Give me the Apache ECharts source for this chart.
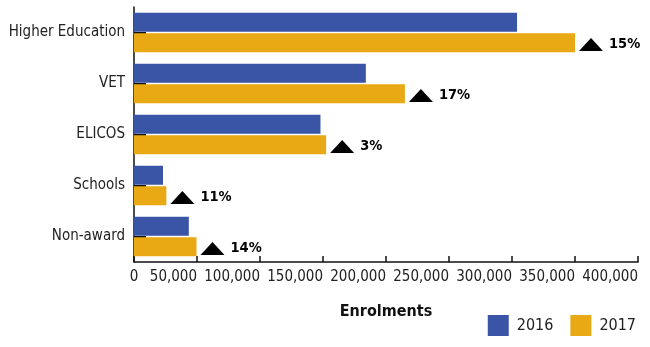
<!DOCTYPE html>
<html>
<head>
<meta charset="utf-8">
<script src="https://cdn.jsdelivr.net/npm/echarts@6/dist/echarts.min.js"></script>
<style>
  html, body { margin: 0; padding: 0; background: #fff; }
  #chart { width: 650px; height: 347px; }
</style>
</head>
<body>
<div id="chart"></div>
<script>
// Sector enrolments, 2016 vs 2017
const sectors = ['Higher Education', 'VET', 'ELICOS', 'Schools', 'Non-award'];
const enrol2016 = [304000, 184000, 148000, 23000, 43500];
const enrol2017 = [350000, 215000, 152500, 25700, 49600];
const growthLabels = ['15%', '17%', '3%', '11%', '14%'];
const xTicks = [0, 50000, 100000, 150000, 200000, 250000, 300000, 350000, 400000];

const FONT = '"DejaVu Sans Condensed", "Liberation Sans Narrow", "Liberation Sans", sans-serif';
const BLUE = '#3B55A6';
const GOLD = '#E9A915';

const chart = echarts.init(document.getElementById('chart'), null, { renderer: 'canvas' });

chart.setOption({
  animation: false,
  textStyle: { fontFamily: FONT },
  grid: { left: 134, right: 12, top: 7, bottom: 85, containLabel: false, outerBoundsMode: 'none' },
  legend: {
    data: ['2016', '2017'],
    right: 9,
    bottom: 6,
    itemWidth: 21,
    itemHeight: 21,
    itemGap: 17,
    icon: 'rect',
    textStyle: { fontFamily: FONT, fontSize: 16, color: '#222', padding: [0, 0, 0, 3] }
  },
  xAxis: {
    type: 'value',
    min: xTicks[0],
    max: xTicks[xTicks.length - 1],
    interval: xTicks[1] - xTicks[0],
    name: 'Enrolments',
    nameLocation: 'middle',
    nameGap: 42,
    nameTextStyle: { fontFamily: FONT, fontSize: 16, fontWeight: 'bold', color: '#111' },
    axisLine: { show: true, lineStyle: { color: '#111', width: 1.5 } },
    axisTick: { show: true, inside: true, length: 6, lineStyle: { color: '#111', width: 1.5 } },
    splitLine: { show: false },
    axisLabel: {
      fontFamily: FONT, fontSize: 15, color: '#222', margin: 8,
      align: 'right',
      alignMinLabel: 'center',
      hideOverlap: false,
      formatter: v => v.toLocaleString('en-US')
    }
  },
  yAxis: {
    type: 'category',
    data: sectors,
    inverse: true,
    axisLine: { show: true, lineStyle: { color: '#111', width: 1.5 } },
    axisTick: { show: true, inside: true, length: 12, alignWithLabel: true, lineStyle: { color: '#111', width: 2 } },
    axisLabel: { fontFamily: FONT, fontSize: 15, color: '#222', margin: 9 }
  },
  series: [
    {
      name: '2016',
      type: 'bar',
      data: enrol2016,
      itemStyle: { color: BLUE },
      barWidth: 19,
      barGap: '8%',
      z: 1
    },
    {
      name: '2017',
      type: 'bar',
      data: enrol2017,
      itemStyle: { color: GOLD },
      barWidth: 19,
      z: 1
    },
    {
      // growth markers beside each 2017 bar
      name: 'growth',
      type: 'scatter',
      data: enrol2017.map((v, i) => [v, sectors[i]]),
      symbol: 'triangle',
      symbolSize: [24, 13],
      symbolOffset: [16, 12],
      itemStyle: { color: '#000', opacity: 1 },
      label: {
        show: true,
        position: 'right',
        distance: 6,
        fontFamily: FONT,
        fontSize: 14.5,
        fontWeight: 'bold',
        color: '#000',
        formatter: p => growthLabels[p.dataIndex]
      },
      emphasis: { disabled: true },
      silent: true,
      z: 3
    }
  ]
});
</script>
</body>
</html>
